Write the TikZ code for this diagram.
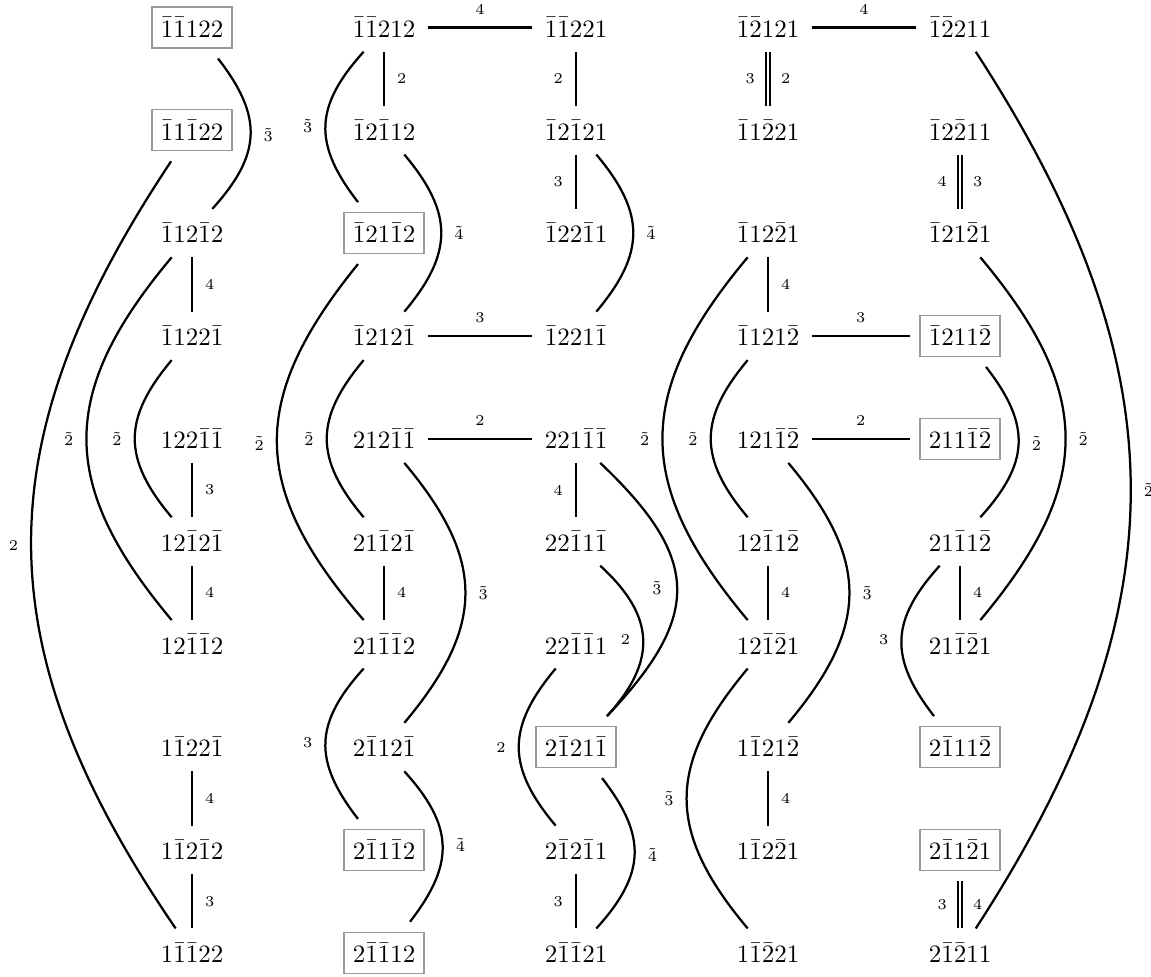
\documentclass[tikz,border=0pt]{standalone}
\newcommand\ob{\bar{1}}
\newcommand\tb{\bar{2}}
\tikzset{
  st/.style={minimum width=32pt, minimum height=16.4pt, inner sep=0pt, outer sep=1.5pt},
  boxed/.style={st, draw=black!40, line width=0.5pt, outer sep=4.2pt},
  ed/.style={line width=0.9pt},
  dbl/.style={ed, double, double distance=0.9pt},
  lb/.style={font=\fontsize{6}{7}\selectfont, inner sep=1pt},
  cv/.style={looseness=1.25}
}
\begin{document}
\begin{tikzpicture}[x=0.4pt, y=-0.4pt]
\useasboundingbox (0,0) rectangle (1151,977);
% first column
\node[boxed] (a0) at (192,27.5)  {$\ob\ob122$};
\node[boxed] (a1) at (192,130.3) {$\ob1\ob22$};
\node[st] (a2) at (192,233.1) {$\ob12\ob2$};
\node[st] (a3) at (192,335.9) {$\ob122\ob$};
\node[st] (a4) at (192,438.7) {$122\ob\ob$};
\node[st] (a5) at (192,541.5) {$12\ob2\ob$};
\node[st] (a6) at (192,644.3) {$12\ob\ob2$};
\node[st] (a7) at (192,747.1) {$1\ob22\ob$};
\node[st] (a8) at (192,849.9) {$1\ob2\ob2$};
\node[st] (a9) at (192,952.7) {$1\ob\ob22$};
% second column
\node[st] (b0) at (384,27.5)  {$\ob\ob212$};
\node[st] (b1) at (384,130.3) {$\ob2\ob12$};
\node[boxed] (b2) at (384,233.1) {$\ob21\ob2$};
\node[st] (b3) at (384,335.9) {$\ob212\ob$};
\node[st] (b4) at (384,438.7) {$212\ob\ob$};
\node[st] (b5) at (384,541.5) {$21\ob2\ob$};
\node[st] (b6) at (384,644.3) {$21\ob\ob2$};
\node[st] (b7) at (384,747.1) {$2\ob12\ob$};
\node[boxed] (b8) at (384,849.9) {$2\ob1\ob2$};
\node[boxed] (b9) at (384,952.7) {$2\ob\ob12$};
% third column
\node[st] (c0) at (576,27.5)  {$\ob\ob221$};
\node[st] (c1) at (576,130.3) {$\ob2\ob21$};
\node[st] (c2) at (576,233.1) {$\ob22\ob1$};
\node[st] (c3) at (576,335.9) {$\ob221\ob$};
\node[st] (c4) at (576,438.7) {$221\ob\ob$};
\node[st] (c5) at (576,541.5) {$22\ob1\ob$};
\node[st] (c6) at (576,644.3) {$22\ob\ob1$};
\node[boxed] (c7) at (576,747.1) {$2\ob21\ob$};
\node[st] (c8) at (576,849.9) {$2\ob2\ob1$};
\node[st] (c9) at (576,952.7) {$2\ob\ob21$};
% fourth column
\node[st] (d0) at (768,27.5)  {$\ob\tb121$};
\node[st] (d1) at (768,130.3) {$\ob1\tb21$};
\node[st] (d2) at (768,233.1) {$\ob12\tb1$};
\node[st] (d3) at (768,335.9) {$\ob121\tb$};
\node[st] (d4) at (768,438.7) {$121\ob\tb$};
\node[st] (d5) at (768,541.5) {$12\ob1\tb$};
\node[st] (d6) at (768,644.3) {$12\ob\tb1$};
\node[st] (d7) at (768,747.1) {$1\ob21\tb$};
\node[st] (d8) at (768,849.9) {$1\ob2\tb1$};
\node[st] (d9) at (768,952.7) {$1\ob\tb21$};
% fifth column
\node[st] (e0) at (960,27.5)  {$\ob\tb211$};
\node[st] (e1) at (960,130.3) {$\ob2\tb11$};
\node[st] (e2) at (960,233.1) {$\ob21\tb1$};
\node[boxed] (e3) at (960,335.9) {$\ob211\tb$};
\node[boxed] (e4) at (960,438.7) {$211\ob\tb$};
\node[st] (e5) at (960,541.5) {$21\ob1\tb$};
\node[st] (e6) at (960,644.3) {$21\ob\tb1$};
\node[boxed] (e7) at (960,747.1) {$2\ob11\tb$};
\node[boxed] (e8) at (960,849.9) {$2\ob1\tb1$};
\node[st] (e9) at (960,952.7) {$2\ob\tb11$};

% straight edges
\draw[ed] (a2) -- node[lb,right=3.8pt]{4} (a3);
\draw[ed] (a4) -- node[lb,right=3.8pt]{3} (a5);
\draw[ed] (a5) -- node[lb,right=3.8pt]{4} (a6);
\draw[ed] (a7) -- node[lb,right=3.8pt]{4} (a8);
\draw[ed] (a8) -- node[lb,right=3.8pt]{3} (a9);
\draw[ed] (b0) -- node[lb,right=3.8pt]{2} (b1);
\draw[ed] (b5) -- node[lb,right=3.8pt]{4} (b6);
\draw[ed] (c0) -- node[lb,left=3.8pt]{2} (c1);
\draw[ed] (c1) -- node[lb,left=3.8pt]{3} (c2);
\draw[ed] (c4) -- node[lb,left=3.8pt]{4} (c5);
\draw[ed] (c8) -- node[lb,left=3.8pt]{3} (c9);
\draw[ed] (d2) -- node[lb,right=3.8pt]{4} (d3);
\draw[ed] (d5) -- node[lb,right=3.8pt]{4} (d6);
\draw[ed] (d7) -- node[lb,right=3.8pt]{4} (d8);
\draw[ed] (e5) -- node[lb,right=3.8pt]{4} (e6);
\draw[dbl] (d0) -- node[lb,left=3.8pt]{3} node[lb,right=3.8pt]{2} (d1);
\draw[dbl] (e1) -- node[lb,left=3.8pt]{4} node[lb,right=3.8pt]{3} (e2);
\draw[dbl] (e8) -- node[lb,left=3.8pt]{3} node[lb,right=3.8pt]{4} (e9);
\draw[ed] (b0) -- node[lb,above=3.8pt]{4} (c0);
\draw[ed] (b3) -- node[lb,above=3.8pt]{3} (c3);
\draw[ed] (b4) -- node[lb,above=3.8pt]{2} (c4);
\draw[ed] (d0) -- node[lb,above=3.8pt]{4} (e0);
\draw[ed] (d3) -- node[lb,above=3.8pt]{3} (e3);
\draw[ed] (d4) -- node[lb,above=3.8pt]{2} (e4);

% curved edges
\draw[ed] (a0) to[bend left=40, cv] node[lb,right=3.8pt]{$\tilde3$} (a2);
\draw[ed] (a1) to[bend right=34, looseness=1.13] node[lb,left=3.8pt]{2} (a9);
\draw[ed] (a2) to[bend right=40, cv] node[lb,left=3.8pt]{$\tilde2$} (a6);
\draw[ed] (a3) to[bend right=40, cv] node[lb,left=3.8pt]{$\tilde2$} (a5);
\draw[ed] (b0) to[bend right=40, cv] node[lb,left=3.8pt]{$\tilde3$} (b2);
\draw[ed] (b1) to[bend left=40, cv] node[lb,right=3.8pt]{$\tilde4$} (b3);
\draw[ed] (b2) to[bend right=40, cv] node[lb,left=3.8pt]{$\tilde2$} (b6);
\draw[ed] (b3) to[bend right=40, cv] node[lb,left=3.8pt]{$\tilde2$} (b5);
\draw[ed] (b4) to[bend left=40, cv] node[lb,right=3.8pt]{$\tilde3$} (b7);
\draw[ed] (b6) to[bend right=40, cv] node[lb,left=3.8pt]{3} (b8);
\draw[ed] (b7) to[bend left=40, cv] node[lb,right=3.8pt]{$\tilde4$} (b9);
\draw[ed] (c1) to[bend left=40, cv] node[lb,right=3.8pt]{$\tilde4$} (c3);
\draw[ed] (c4) to[bend left=45, looseness=1.4] node[lb,left=4.8pt]{$\tilde3$} (c7);
\draw[ed] (c5) to[bend left=45, looseness=1.27] node[lb,left=3.8pt]{2} (c7);
\draw[ed] (c6) to[bend right=40, cv] node[lb,left=3.8pt]{2} (c8);
\draw[ed] (c7) to[bend left=40, cv] node[lb,right=3.8pt]{$\tilde4$} (c9);
\draw[ed] (d2) to[bend right=40, cv] node[lb,left=3.8pt]{$\tilde2$} (d6);
\draw[ed] (d3) to[bend right=40, cv] node[lb,left=3.8pt]{$\tilde2$} (d5);
\draw[ed] (d4) to[bend left=40, cv] node[lb,right=3.8pt]{$\tilde3$} (d7);
\draw[ed] (d6) to[bend right=40, cv] node[lb,left=3.8pt]{$\tilde3$} (d9);
\draw[ed] (e0) to[bend left=33, looseness=1.11] node[lb,right=3.8pt]{$\tilde2$} (e9);
\draw[ed] (e2) to[bend left=40, cv] node[lb,right=3.8pt]{$\tilde2$} (e6);
\draw[ed] (e3) to[bend left=40, cv] node[lb,right=3.8pt]{$\tilde2$} (e5);
\draw[ed] (e5) to[bend right=40, cv] node[lb,left=3.8pt]{3} (e7);
\end{tikzpicture}
\end{document}
